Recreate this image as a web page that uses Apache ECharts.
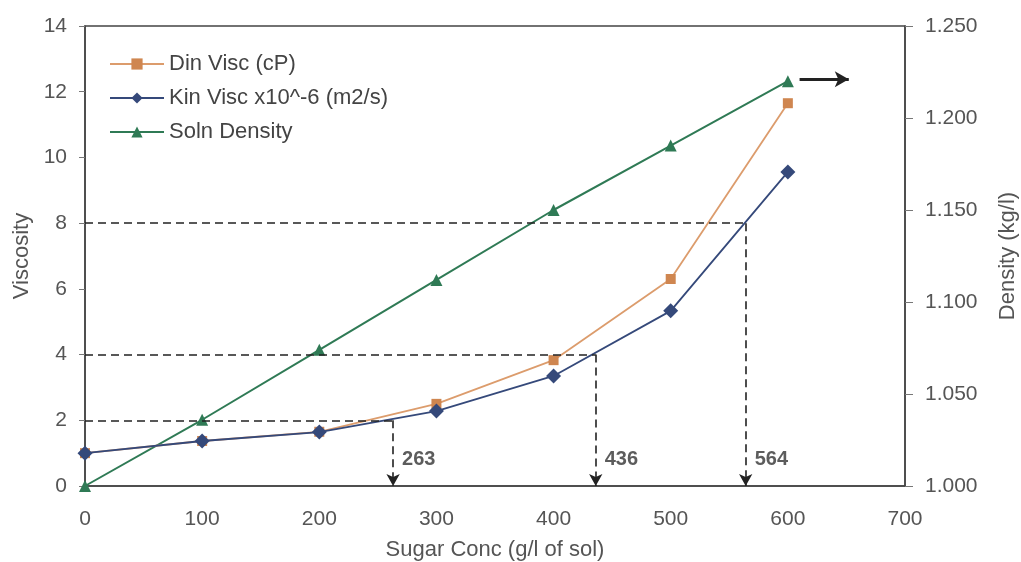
<!DOCTYPE html>
<html>
<head>
<meta charset="utf-8">
<script src="https://cdn.jsdelivr.net/npm/echarts@6/dist/echarts.min.js"></script>
<style>
  html, body { margin: 0; padding: 0; background: #fff; }
  #chart { width: 1021px; height: 562px; }
</style>
</head>
<body>
<div id="chart"></div>
<script>
// Sugar concentration (g/l of solution)
const sugarConc = [0, 100, 200, 300, 400, 500, 600];
// Dynamic viscosity (cP)
const dynVisc = [1.0, 1.37, 1.65, 2.5, 3.83, 6.3, 11.65];
// Kinematic viscosity x10^-6 (m2/s)
const kinVisc = [1.0, 1.37, 1.64, 2.28, 3.35, 5.33, 9.56];
// Solution density (kg/l)
const density = [1.000, 1.036, 1.074, 1.112, 1.150, 1.185, 1.220];

// Read-off guides: viscosity level -> concentration
const guideLevels = [2, 4, 8];
const guideConc = [263, 436, 564];
// Pointer showing that density belongs to the right-hand axis
const densityPointerX = [610, 652];
const densityPointerY = 1.221;

const xTicks = { min: 0, max: 700, interval: 100 };
const viscTicks = { min: 0, max: 14, interval: 2 };
const densTicks = { min: 1.0, max: 1.25, interval: 0.05 };

const labelColor = '#555';
const axisColor = '#444';
const font = 'Liberation Sans, Arial, sans-serif';

const pairs = arr => sugarConc.map((x, i) => [x, arr[i]]);

const guideLines = [];
guideLevels.forEach((lvl, i) => {
  const x = guideConc[i];
  guideLines.push([{ coord: [0, lvl], symbol: 'none' }, { coord: [x, lvl], symbol: 'none' }]);
  guideLines.push([{ coord: [x, lvl], symbol: 'none' }, { coord: [x, 0], symbol: 'arrow', symbolSize: [10, 12] }]);
});

const chart = echarts.init(document.getElementById('chart'));
chart.setOption({
  backgroundColor: '#fff',
  animation: false,
  textStyle: { fontFamily: font },
  grid: {
    left: 85, right: 116, top: 26, bottom: 76,
    outerBoundsMode: 'none',
    containLabel: false,
    show: true, borderColor: axisColor, borderWidth: 1.5
  },
  legend: {
    orient: 'vertical',
    left: 104,
    top: 48,
    itemGap: 12,
    itemWidth: 54,
    itemHeight: 14,
    textStyle: { color: '#444', fontSize: 22, fontFamily: font },
    data: ['Din Visc (cP)', 'Kin Visc x10^-6 (m2/s)', 'Soln Density']
  },
  xAxis: {
    type: 'value',
    min: xTicks.min, max: xTicks.max, interval: xTicks.interval,
    name: 'Sugar Conc (g/l of sol)',
    nameLocation: 'middle',
    nameGap: 53,
    nameTextStyle: { color: labelColor, fontSize: 22 },
    axisLine: { show: true, lineStyle: { color: axisColor, width: 1.5 } },
    axisTick: { show: false },
    axisLabel: { color: labelColor, fontSize: 21, margin: 23 },
    splitLine: { show: false }
  },
  yAxis: [
    {
      type: 'value',
      min: viscTicks.min, max: viscTicks.max, interval: viscTicks.interval,
      name: 'Viscosity',
      nameLocation: 'middle',
      nameGap: 52,
      nameTextStyle: { color: labelColor, fontSize: 22 },
      axisLine: { show: true, lineStyle: { color: axisColor, width: 1.5 } },
      axisTick: { show: true, length: 6, lineStyle: { color: '#777' } },
      axisLabel: { color: labelColor, fontSize: 21, margin: 18 },
      splitLine: { show: false }
    },
    {
      type: 'value',
      position: 'right',
      min: densTicks.min, max: densTicks.max, interval: densTicks.interval,
      name: 'Density (kg/l)',
      nameLocation: 'middle',
      nameGap: 92,
      nameRotate: 90,
      nameTextStyle: { color: labelColor, fontSize: 22 },
      axisLine: { show: true, lineStyle: { color: axisColor, width: 1.5 } },
      axisTick: { show: true, length: 8, lineStyle: { color: '#777' } },
      axisLabel: { color: labelColor, fontSize: 21, margin: 20, formatter: v => v.toFixed(3) },
      splitLine: { show: false }
    }
  ],
  series: [
    {
      name: 'Soln Density',
      type: 'line',
      yAxisIndex: 1,
      data: pairs(density),
      symbol: 'triangle',
      symbolSize: 12,
      itemStyle: { color: '#2f7a55' },
      lineStyle: { color: '#2f7a55', width: 2 },
      markLine: {
        silent: true,
        symbol: ['none', 'arrow'],
        symbolSize: [12, 14],
        label: { show: false },
        lineStyle: { color: '#222', width: 3, type: 'solid' },
        data: [[{ coord: [densityPointerX[0], densityPointerY] }, { coord: [densityPointerX[1], densityPointerY] }]]
      },
      z: 2
    },
    {
      name: 'Din Visc (cP)',
      type: 'line',
      data: pairs(dynVisc),
      symbol: 'rect',
      symbolSize: 10,
      itemStyle: { color: '#cf8650' },
      lineStyle: { color: '#dc9c6c', width: 1.8 },
      z: 3
    },
    {
      name: 'Kin Visc x10^-6 (m2/s)',
      type: 'line',
      data: pairs(kinVisc),
      symbol: 'diamond',
      symbolSize: 15,
      itemStyle: { color: '#35497a' },
      lineStyle: { color: '#35497a', width: 1.8 },
      markLine: {
        silent: true,
        label: { show: false },
        lineStyle: { color: '#222', width: 1.6, type: [8, 5] },
        data: guideLines
      },
      z: 4
    },
    {
      name: 'guide labels',
      type: 'scatter',
      data: guideConc.map(x => [x, 0.8, String(x)]),
      symbolSize: 0,
      silent: true,
      label: {
        show: true,
        position: 'right',
        distance: 9,
        formatter: p => p.value[2],
        color: '#333',
        fontSize: 20,
        fontWeight: 'bold',
        fontFamily: font
      },
      z: 5
    }
  ]
});
</script>
</body>
</html>
